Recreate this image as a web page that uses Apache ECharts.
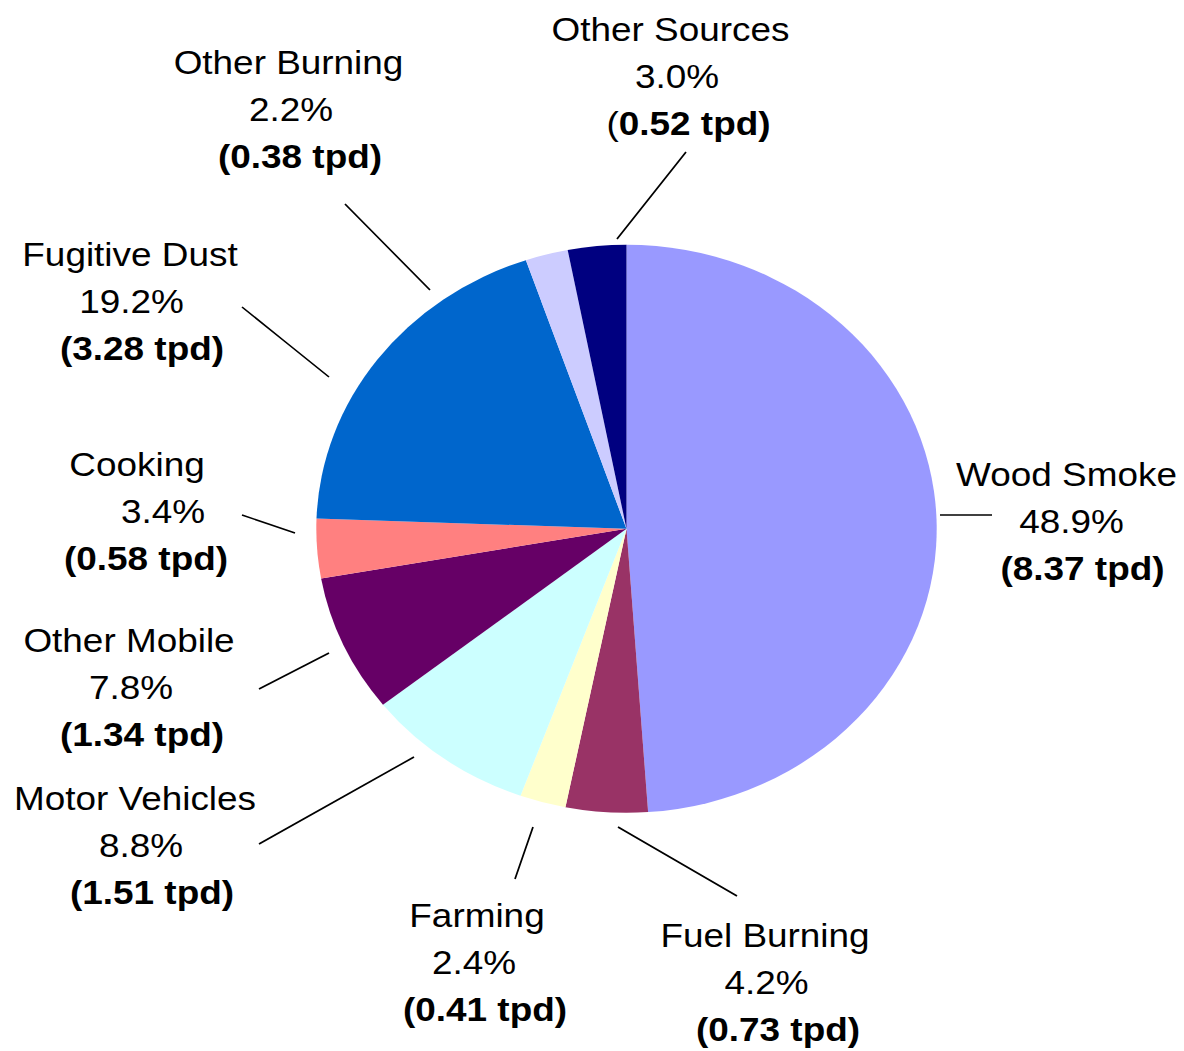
<!DOCTYPE html>
<html>
<head>
<meta charset="utf-8">
<script src="https://cdn.jsdelivr.net/npm/echarts@6/dist/echarts.min.js"></script>
<style>
html, body { margin: 0; padding: 0; background: #ffffff; overflow: hidden; }
#wrap { width: 1184px; height: 1051px; overflow: hidden; position: relative; background: #ffffff; }
#chart { width: 1084px; height: 1051px; transform: scaleX(1.09225); transform-origin: 0 0; }
</style>
</head>
<body>
<div id="wrap"><div id="chart"></div></div>
<script>
// ---- data ----
const categories = ['Wood Smoke', 'Fuel Burning', 'Farming', 'Motor Vehicles', 'Other Mobile', 'Cooking', 'Fugitive Dust', 'Other Burning', 'Other Sources'];
const tpd = [8.37, 0.73, 0.41, 1.51, 1.34, 0.58, 3.28, 0.38, 0.52];
const percentLabels = ['48.9%', '4.2%', '2.4%', '8.8%', '7.8%', '3.4%', '19.2%', '2.2%', '3.0%'];

// ---- styles / layout (reference pixel space) ----
const colors = ['#9999FF', '#993366', '#FFFFCC', '#CCFFFF', '#660066', '#FF8080', '#0066CC', '#CCCCFF', '#000080'];
const S = 1184 / 1084; // horizontal stretch of the whole picture
const labelCenters = [
  [1066.5, 521.5], [765, 982.5], [477, 962.5], [135, 845.5], [129, 687.5],
  [137, 511.5], [130, 301.5], [288.5, 109.2], [670.5, 76.5]
];
const lineOffsets = [
  [5, 16], [1.5, 13], [-3, 8], [6, 17], [2, 13], [26, 9], [1.5, 12], [2.5, 11.5], [6.5, 18]
];
const leaderLines = [
  [940, 515, 992, 515], [618, 827, 737, 896], [533, 827, 515, 879], [414, 757, 259, 844],
  [329, 653, 259, 689], [295, 533, 242, 515], [329, 377, 242, 307], [430, 290, 345, 204],
  [617, 239, 686, 152]
];
const boldOpenParen = [true, true, true, true, true, true, true, true, false];

const FONT = '"Liberation Sans", Arial, Helvetica, sans-serif';
const FS = 33.8;
const LH = 47;

function pad(d) {
  const v = 2 * d / S;
  return d >= 0 ? [0, 0, 0, v] : [0, -v, 0, 0];
}

const seriesData = categories.map(function (name, i) {
  return {
    name: name,
    value: tpd[i],
    itemStyle: { color: colors[i] },
    label: {
      rich: {
        n: { fontFamily: FONT, fontSize: FS, lineHeight: LH, color: '#000', align: 'center' },
        p: { fontFamily: FONT, fontSize: FS, lineHeight: LH, color: '#000', align: 'center', padding: pad(lineOffsets[i][0]) },
        o: { fontFamily: FONT, fontSize: FS, lineHeight: LH, color: '#000', align: 'center', fontWeight: boldOpenParen[i] ? 'bold' : 'normal', padding: pad(lineOffsets[i][1]) },
        b: { fontFamily: FONT, fontSize: FS, lineHeight: LH, color: '#000', align: 'center', fontWeight: 'bold' }
      }
    }
  };
});

const chart = echarts.init(document.getElementById('chart'), null, { renderer: 'svg' });
chart.setOption({
  backgroundColor: '#ffffff',
  animation: false,
  series: [{
    type: 'pie',
    center: [626.5 / S, 528.8],
    radius: 284,
    startAngle: 90,
    clockwise: true,
    avoidLabelOverlap: false,
    silent: true,
    data: seriesData,
    itemStyle: { borderWidth: 0 },
    label: {
      show: true,
      position: 'outside',
      width: 330,
      overflow: 'none',
      align: 'center',
      verticalAlign: 'middle',
      formatter: function (p) {
        const i = p.dataIndex;
        return '{n|' + p.name + '}\n{p|' + percentLabels[i] + '}\n{o|(}{b|' + tpd[i].toFixed(2) + ' tpd)}';
      }
    },
    labelLine: {
      show: true,
      length: 10,
      length2: 10,
      smooth: false,
      lineStyle: { color: '#000000', width: 1.6 }
    },
    labelLayout: function (params) {
      const i = params.dataIndex;
      const c = labelCenters[i];
      const l = leaderLines[i];
      return {
        x: c[0] / S,
        y: c[1],
        align: 'center',
        verticalAlign: 'middle',
        labelLinePoints: [[l[0] / S, l[1]], [(l[0] + l[2]) / 2 / S, (l[1] + l[3]) / 2], [l[2] / S, l[3]]]
      };
    }
  }]
});
</script>
</body>
</html>
